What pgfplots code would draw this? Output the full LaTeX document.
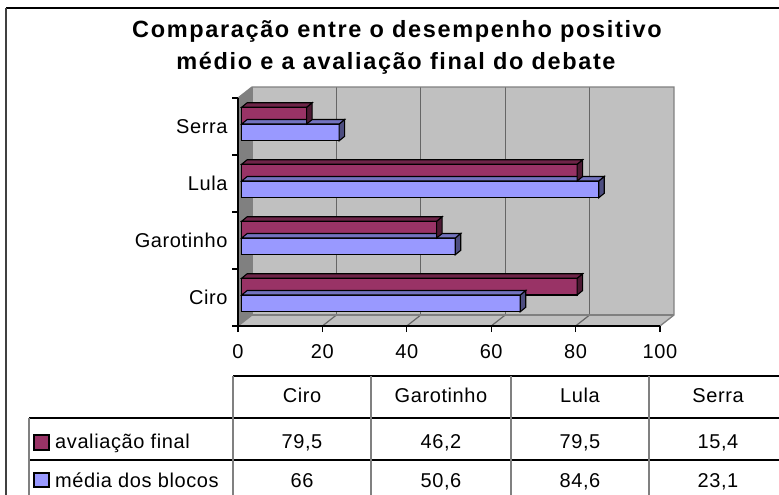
\documentclass[border=0pt]{standalone}
\usepackage{pgfplots}
\pgfplotsset{compat=1.18}
\usepackage{pgfplotstable}
\usepackage{fontspec}
\setmainfont{Liberation Sans}[LetterSpace=3]
\newfontfamily\titlefont{Liberation Sans}[LetterSpace=7]

\definecolor{avf}{HTML}{993366}
\definecolor{avt}{HTML}{6E2448}
\definecolor{avs}{HTML}{4D1A33}
\definecolor{mdf}{HTML}{9999FF}
\definecolor{mdt}{HTML}{7373BF}
\definecolor{mds}{HTML}{4D4D80}
\definecolor{wall}{HTML}{C0C0C0}
\definecolor{lwall}{HTML}{808080}
\definecolor{gridc}{HTML}{666666}

\pgfplotstableread{
cat aval media
0 79.5 66
1 46.2 50.6
2 79.5 84.6
3 15.4 23.1
}\votos

\newcommand\facesmark[3]{%
  \pgfmathsetmacro\L{\barlen*4.22}%
  \pgfsetlinewidth{1.1bp}%
  \pgfsetstrokecolor{black}%
  \pgfsetfillcolor{#3}%
  \pgfpathmoveto{\pgfpoint{3.7bp}{#1bp-8.4bp}}%
  \pgfpathlineto{\pgfpoint{3.7bp}{#1bp+8.4bp}}%
  \pgfpathlineto{\pgfpoint{9.2bp}{#1bp+12.9bp}}%
  \pgfpathlineto{\pgfpoint{9.2bp}{#1bp-3.9bp}}%
  \pgfpathclose
  \pgfusepath{fill,stroke}%
  \pgfsetfillcolor{#2}%
  \pgfpathmoveto{\pgfpoint{3.7bp-\L bp}{#1bp+8.4bp}}%
  \pgfpathlineto{\pgfpoint{3.7bp}{#1bp+8.4bp}}%
  \pgfpathlineto{\pgfpoint{9.2bp}{#1bp+12.9bp}}%
  \pgfpathlineto{\pgfpoint{9.2bp-\L bp}{#1bp+12.9bp}}%
  \pgfpathclose
  \pgfusepath{fill,stroke}%
}
\pgfdeclareplotmark{avfaces}{\facesmark{10.9}{avt}{avs}}
\pgfdeclareplotmark{mdfaces}{\facesmark{-5.9}{mdt}{mds}}

\newcommand\lab{\fontsize{20bp}{24bp}\selectfont}

\begin{document}
\begin{tikzpicture}
\useasboundingbox (0,0) rectangle (779bp,-495bp);
\begin{scope}[x=1bp,y=-1bp]
  % frame
  \draw[black, line width=1.5] (6,8) -- (790,8);
  \draw[black!75, line width=2] (6,8) -- (6,500);
  % title
  \node[anchor=base, font=\titlefont\bfseries\fontsize{23.5bp}{28bp}\selectfont] at (397,37) {Comparação entre o desempenho positivo};
  \node[anchor=base, font=\titlefont\bfseries\fontsize{23.5bp}{28bp}\selectfont] at (396,69) {médio e a avaliação final do debate};
  % walls
  \fill[lwall] (238,98) -- (252,87) -- (252,315) -- (238,326) -- cycle;
  \fill[wall] (252,87) -- (674,87) -- (674,315) -- (252,315) -- cycle;
  \fill[wall] (238,326) -- (660,326) -- (674,315) -- (252,315) -- cycle;
  \foreach \v in {20,40,60,80} {
    \draw[gridc, line width=1.2] ({252+4.22*\v},87) -- ({252+4.22*\v},315);
    \draw[gridc, line width=1.2] ({238+4.22*\v},326) -- ({252+4.22*\v},315);
  }
  \draw[lwall, line width=1.3] (238,98) -- (252,87) -- (674,87) -- (674,315) -- (660,326);
  \draw[lwall, line width=1.3] (252,87) -- (252,315) -- (674,315);
  \draw[lwall, line width=1.3] (238,326) -- (252,315);
  % table
  \draw[black, line width=1.2] (233,376) -- (790,376);
  \draw[black, line width=1.2] (29,418) -- (790,418);
  \draw[black, line width=1.2] (29,460) -- (790,460);
  \foreach \xx/\ya in {29/418,233/376,371/376,511/376,649/376}
    \draw[lwall, line width=1.6] (\xx,\ya) -- (\xx,500);
  \filldraw[fill=avf, draw=black, line width=1.1] (34,435) rectangle (49,450);
  \filldraw[fill=mdf, draw=black, line width=1.1] (34,473) rectangle (49,487);
  \node[anchor=base west, font=\lab, inner sep=0] at (55,448) {avaliação final};
  \node[anchor=base west, font=\lab, inner sep=0] at (55,487) {média dos blocos};
  \foreach \cx/\cn/\va/\vm in {302/Ciro/{79,5}/66, 441/Garotinho/{46,2}/{50,6}, 580/Lula/{79,5}/{84,6}, 718/Serra/{15,4}/{23,1}} {
    \node[anchor=base, font=\lab, inner sep=0] at (\cx,402) {\cn};
    \node[anchor=base, font=\lab, inner sep=0] at (\cx,448) {\va};
    \node[anchor=base, font=\lab, inner sep=0] at (\cx,487) {\vm};
  }
\end{scope}
\begin{axis}[
  at={(238bp,-326bp)}, anchor=south west,
  scale only axis, width=422bp, height=228bp,
  xmin=0, xmax=100, ymin=-0.5, ymax=3.5,
  clip=false,
  axis lines*=left,
  axis line style={black, line width=1.1bp},
  tick align=outside,
  major tick length=6bp,
  tick style={black, line width=1.1bp},
  xtick={0,20,...,100},
  ytick={-0.5,0.5,1.5,2.5,3.5},
  yticklabels={Ciro,Garotinho,Lula,Serra,{}},
  yticklabel style={yshift=28.5bp, xshift=-1bp},
  xticklabel style={yshift=-9bp},
  /pgf/number format/assume math mode=true,
  ticklabel style={font=\lab},
]
\addplot[only marks, mark=mdfaces, visualization depends on={rawx \as \barlen}] table[x=media,y=cat]{\votos};
\addplot[xbar, bar width=16.8bp, bar shift=-5.9bp, xshift=3.7bp, fill=mdf, draw=black, line width=1.1bp] table[x=media,y=cat]{\votos};
\addplot[only marks, mark=avfaces, visualization depends on={rawx \as \barlen}] table[x=aval,y=cat]{\votos};
\addplot[xbar, bar width=16.8bp, bar shift=10.9bp, xshift=3.7bp, fill=avf, draw=black, line width=1.1bp] table[x=aval,y=cat]{\votos};
\end{axis}
\end{tikzpicture}
\end{document}
